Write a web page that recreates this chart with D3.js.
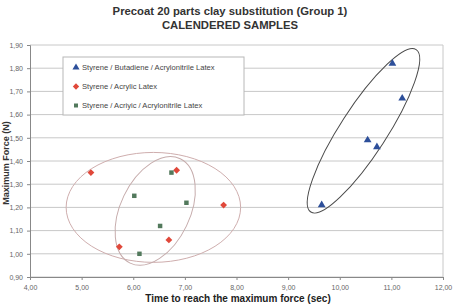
<!DOCTYPE html>
<html>
<head>
<meta charset="utf-8">
<script src="https://cdn.jsdelivr.net/npm/d3@7"></script>
<style>
  body { margin: 0; background: #fff; }
  text { font-family: "Liberation Sans", Arial, sans-serif; }
</style>
</head>
<body>
<div id="wrapper"></div>
<script>
// data
const sblX = [11.02, 11.21, 10.54, 10.72, 9.65]
const sblY = [1.82, 1.67, 1.49, 1.46, 1.21]
const saX = [5.18, 6.84, 7.75, 6.69, 5.73]
const saY = [1.35, 1.36, 1.21, 1.06, 1.03]
const saaX = [6.74, 6.02, 7.03, 6.52, 6.12]
const saaY = [1.35, 1.25, 1.22, 1.12, 1.00]
const seriesNames = [
  "Styrene / Butadiene / Acrylonitrile Latex",
  "Styrene / Acrylic Latex",
  "Styrene / Acriyic / Acrylonitrile Latex"
]
const xTicks = [4, 5, 6, 7, 8, 9, 10, 11, 12]
const yTicks = [0.9, 1.0, 1.1, 1.2, 1.3, 1.4, 1.5, 1.6, 1.7, 1.8, 1.9]
// hand drawn groupings: major axis ends in data units + minor/major ratio
const ellipseA = [[4.70, 1.20], [8.08, 1.20]]
const ellipseB = [[6.91, 1.41], [5.94, 0.96]]
const ellipseC = [[11.48, 1.88], [9.44, 1.18]]
const ellipseRatio = [0.63, 0.6, 0.24]

const dims = { width: 455, height: 306, margin: { top: 45, right: 12, bottom: 29, left: 30 } }
dims.boundedWidth = dims.width - dims.margin.left - dims.margin.right
dims.boundedHeight = dims.height - dims.margin.top - dims.margin.bottom

const svg = d3.select("#wrapper").append("svg")
  .attr("width", dims.width)
  .attr("height", dims.height)

const bounds = svg.append("g")
  .attr("transform", `translate(${dims.margin.left},${dims.margin.top})`)

const x = d3.scaleLinear().domain([4, 12]).range([0, dims.boundedWidth])
const y = d3.scaleLinear().domain([0.9, 1.9]).range([dims.boundedHeight, 0])
const fmt = d => d3.format(".2f")(d).replace(".", ",")

// grid
bounds.append("g").selectAll("line").data(yTicks).join("line")
  .attr("x1", 0).attr("x2", dims.boundedWidth)
  .attr("y1", d => y(d)).attr("y2", d => y(d))
  .attr("stroke", "#c8c8c8").attr("stroke-width", 1)
bounds.append("line")
  .attr("x1", dims.boundedWidth).attr("x2", dims.boundedWidth)
  .attr("y1", 0).attr("y2", dims.boundedHeight)
  .attr("stroke", "#c8c8c8")

// axes
const yAxis = bounds.append("g")
  .call(d3.axisLeft(y).tickValues(yTicks).tickFormat(fmt).tickSize(3).tickPadding(4))
const xAxis = bounds.append("g")
  .attr("transform", `translate(0,${dims.boundedHeight})`)
  .call(d3.axisBottom(x).tickValues(xTicks).tickFormat(fmt).tickSize(3).tickPadding(5))
;[xAxis, yAxis].forEach(a => {
  a.select(".domain").attr("stroke", "#888")
  a.selectAll(".tick line").attr("stroke", "#888")
  a.selectAll("text").attr("fill", "#666").style("font-size", "7px")
})

// ellipses
const drawEllipse = (ends, ratio, color) => {
  const p1 = [x(ends[0][0]), y(ends[0][1])]
  const p2 = [x(ends[1][0]), y(ends[1][1])]
  const cx = (p1[0] + p2[0]) / 2, cy = (p1[1] + p2[1]) / 2
  const rx = Math.hypot(p2[0] - p1[0], p2[1] - p1[1]) / 2
  const ang = Math.atan2(p2[1] - p1[1], p2[0] - p1[0]) * 180 / Math.PI
  bounds.append("ellipse")
    .attr("cx", 0).attr("cy", 0).attr("rx", rx).attr("ry", rx * ratio)
    .attr("transform", `translate(${cx},${cy}) rotate(${ang})`)
    .attr("fill", "none").attr("stroke", color).attr("stroke-width", 1)
}
drawEllipse(ellipseA, ellipseRatio[0], "#cfaeae")
drawEllipse(ellipseB, ellipseRatio[1], "#c6acac")
drawEllipse(ellipseC, ellipseRatio[2], "#4a4a4a")

// points
const colors = ["#2d4f9a", "#e0483a", "#52795c"]
const symbols = [d3.symbolTriangle, d3.symbolDiamond2, d3.symbolSquare]
const sizes = [26, 30, 20]
const series = [[sblX, sblY], [saX, saY], [saaX, saaY]]
series.forEach(([xs, ys], i) => {
  bounds.append("g").selectAll("path").data(xs).join("path")
    .attr("d", d3.symbol(symbols[i], sizes[i]))
    .attr("transform", (d, j) => `translate(${x(d)},${y(ys[j])})`)
    .attr("fill", colors[i])
})

// legend
const legend = svg.append("g").attr("transform", "translate(63,57)")
legend.append("rect")
  .attr("width", 181).attr("height", 58)
  .attr("fill", "#fff").attr("stroke", "#b8b8b8")
seriesNames.forEach((name, i) => {
  const ly = 10.5 + i * 19
  legend.append("path")
    .attr("d", d3.symbol(symbols[i], sizes[i] - 4))
    .attr("transform", `translate(13,${ly})`)
    .attr("fill", colors[i])
  legend.append("text")
    .attr("x", 19).attr("y", ly).attr("dy", "0.35em")
    .style("font-size", "7.6px").attr("fill", "#444")
    .text(name)
})

// titles
svg.append("text")
  .attr("x", 230).attr("y", 15)
  .attr("text-anchor", "middle")
  .style("font-size", "11.3px").style("font-weight", "bold").attr("fill", "#333")
  .text("Precoat 20 parts clay substitution (Group 1)")
svg.append("text")
  .attr("x", 230).attr("y", 29)
  .attr("text-anchor", "middle")
  .style("font-size", "11.3px").style("font-weight", "bold").attr("fill", "#333")
  .text("CALENDERED SAMPLES")
svg.append("text")
  .attr("x", 238).attr("y", 302)
  .attr("text-anchor", "middle")
  .style("font-size", "10px").style("font-weight", "bold").attr("fill", "#222")
  .text("Time to reach the maximum force (sec)")
svg.append("text")
  .attr("transform", "translate(9,163) rotate(-90)")
  .attr("text-anchor", "middle")
  .style("font-size", "9px").style("font-weight", "bold").attr("fill", "#333")
  .text("Maximum Force (N)")
</script>
</body>
</html>
